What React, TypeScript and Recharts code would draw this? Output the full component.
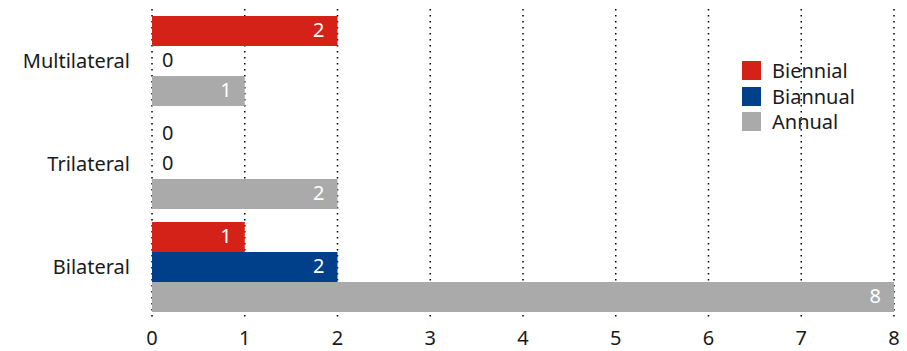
import { BarChart, Bar, XAxis, YAxis, CartesianGrid, LabelList } from 'recharts';

const categories = ['Multilateral', 'Trilateral', 'Bilateral'];
const biennial = [2, 0, 1];
const biannual = [0, 0, 2];
const annual = [1, 2, 8];
const xTicks = [0, 1, 2, 3, 4, 5, 6, 7, 8];

const series = [
  { key: 'biennial', name: 'Biennial', color: '#d52219' },
  { key: 'biannual', name: 'Biannual', color: '#00408a' },
  { key: 'annual', name: 'Annual', color: '#aaaaaa' },
];

const FONT = '"Noto Sans", sans-serif';
const FS = 20;

const data = categories.map((name, i) => ({
  name,
  biennial: biennial[i],
  biannual: biannual[i],
  annual: annual[i],
}));

// white value inside the bar end, or a black 0 just right of the axis
const ValueLabel = (props: any) => {
  const { x, y, width, height, value } = props;
  const cy = Number(y) + Number(height) / 2;
  if (Number(value) === 0) {
    return (
      <text x={Number(x) + 10} y={cy} dy="0.32em" fill="#1a1a1a" fontSize={FS} fontFamily={FONT}>
        0
      </text>
    );
  }
  return (
    <text x={Number(x) + Number(width) - 13} y={cy} dy="0.3em" textAnchor="end" fill="#fff" fontSize={FS} fontFamily={FONT}>
      {value}
    </text>
  );
};

const ChartLegend = () => (
  <div style={{ position: 'absolute', left: 742, top: 58, fontFamily: FONT, fontSize: FS, color: '#1a1a1a' }}>
    {series.map((s) => (
      <div key={s.key} style={{ display: 'flex', alignItems: 'center', height: 25.5 }}>
        <span style={{ width: 19, height: 19, background: s.color, marginRight: 11, display: 'inline-block' }} />
        {s.name}
      </div>
    ))}
  </div>
);

export default function App() {
  return (
    <div style={{ position: 'absolute', left: 0, top: 0, width: 907, height: 351, background: '#fff' }}>
      <BarChart
        width={907}
        height={351}
        data={data}
        layout="vertical"
        margin={{ top: 9, right: 13, bottom: 8, left: 0 }}
        barSize={30}
        barGap={0}
        barCategoryGap={6}
      >
        <CartesianGrid horizontal={false} stroke="#000" strokeWidth={1.5} strokeDasharray="1.5 4.5" />
        <XAxis
          type="number"
          domain={[0, 8]}
          ticks={xTicks}
          axisLine={false}
          tickLine={false}
          tickSize={0}
          tickMargin={13}
          height={25}
          fontSize={FS}
          tick={{ fill: '#1a1a1a', fontSize: FS, fontFamily: FONT }}
        />
        <YAxis
          type="category"
          dataKey="name"
          width={152}
          axisLine={false}
          tickLine={false}
          tickSize={0}
          tickMargin={22}
          fontSize={FS}
          tick={{ fill: '#1a1a1a', fontSize: FS, fontFamily: FONT }}
        />
        {series.map((s) => (
          <Bar
            key={s.key}
            dataKey={s.key}
            name={s.name}
            fill={s.color}
            minPointSize={0.01}
            isAnimationActive={false}
          >
            <LabelList dataKey={s.key} content={ValueLabel} />
          </Bar>
        ))}
      </BarChart>
      <ChartLegend />
    </div>
  );
}
